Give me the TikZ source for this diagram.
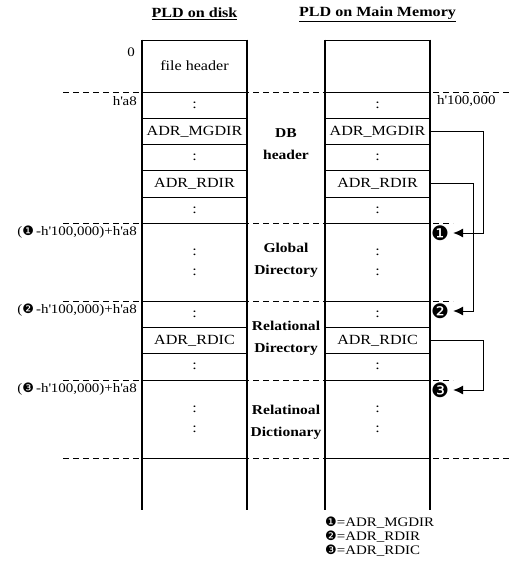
\documentclass[tikz,border=0pt]{standalone}
\usepackage{fontspec}
\setmainfont[FakeStretch=1.15]{Liberation Serif}
\newfontfamily\symfont{DejaVu Sans}
\usetikzlibrary{arrows.meta}
\newcommand{\tick}{\textquotesingle}

\tikzset{
  cell/.style={draw,line width=0.6pt,minimum width=105pt,minimum height=26.2pt,
    inner sep=0pt,font=\fontsize{14}{15}\selectfont},
  tallcell/.style={cell,minimum height=78pt,align=center,font=\fontsize{14}{20}\selectfont},
  colline/.style={line width=1.8pt},
  sep/.style={dash pattern=on 6pt off 4pt,line width=0.7pt},
  seclabel/.style={font=\bfseries\fontsize{13.5}{22}\selectfont,align=center},
  addr/.style={anchor=east,inner sep=0pt,font=\fontsize{13}{14}\selectfont},
  ptrnum/.style={inner sep=0pt,font=\fontsize{20}{20}\selectfont\symfont},
  ptr/.style={->,line width=1pt,shorten >=4pt},
  title/.style={font=\bfseries\fontsize{14}{16}\selectfont},
}

\begin{document}
\begin{tikzpicture}[x=1pt,y=-1pt,>={Latex[length=10pt,width=9pt]}]
    \useasboundingbox (0,0) rectangle (512,567);
    \node[title] (tdisk) at (194.5,14) {\underline{PLD on disk}};
    \node[title] (tmem) at (377.5,14) {\underline{PLD on Main Memory}};
    % section boundaries
    \draw[sep] (63,92) -- (512,92);
    \draw[sep] (63,223) -- (453,223);
    \draw[sep] (63,301) -- (453,301);
    \draw[sep] (63,380) -- (453,380);
    \draw[sep] (63,458) -- (512,458);
    % the two images of the PLD
    \foreach \c/\x/\t in {d/194.5/file header,m/377.5/{}}{
        \node[cell,minimum height=52pt] (\c top) at (\x,66) {\t};
        \node[cell] (\c a) at (\x,105.1) {:};
        \node[cell] (\c mg) at (\x,131.3) {ADR\_MGDIR};
        \node[cell] (\c b) at (\x,157.5) {:};
        \node[cell] (\c rd) at (\x,183.7) {ADR\_RDIR};
        \node[cell] (\c c) at (\x,209.9) {:};
        \node[tallcell] (\c gd) at (\x,262) {:\\:};
        \node[cell,minimum height=26.3pt] (\c e) at (\x,314.2) {:};
        \node[cell,minimum height=26.3pt] (\c rc) at (\x,340.5) {ADR\_RDIC};
        \node[cell,minimum height=26.3pt] (\c f) at (\x,366.8) {:};
        \node[tallcell] (\c dc) at (\x,419) {:\\:};
        \draw[colline] (\c top.north west) -- ++(0,470);
        \draw[colline] (\c top.north east) -- ++(0,470);
    }
    % offsets
    \node[addr] (o0) at (135,52) {0};
    \node[addr] (oa8) at (137,101) {h\tick a8};
    \node[addr] (o1) at (137,232) {({\symfont ❶}\,-h\tick 100,000)+h\tick a8};
    \node[addr] (o2) at (137,310) {({\symfont ❷}\,-h\tick 100,000)+h\tick a8};
    \node[addr] (o3) at (137,389) {({\symfont ❸}\,-h\tick 100,000)+h\tick a8};
    \node[addr,anchor=west] (obase) at (437,101) {h\tick 100,000};
    % areas
    \node[seclabel] (dbh) at (286,144.5) {DB\\header};
    \node[seclabel] (gdir) at (286,260) {Global\\Directory};
    \node[seclabel] (rdir) at (286,338.5) {Relational\\Directory};
    \node[seclabel] (rdic) at (286,422) {Relatinoal\\Dictionary};
    % pointers
    \node[ptrnum] (n1) at (440,233) {❶};
    \node[ptrnum] (n2) at (440,311) {❷};
    \node[ptrnum] (n3) at (440,390) {❸};
    \draw[ptr] (mmg.east) -- ++(53,0) |- (n1.east);
    \draw[ptr] (mrd.east) -- ++(43,0) |- (n2.east);
    \draw[ptr] (mrc.east) -- ++(53,0) |- (n3.east);
    % key
    \node[addr,anchor=west] (k1) at (325,523) {{\symfont ❶}=ADR\_MGDIR};
    \node[addr,anchor=west] (k2) at (325,537) {{\symfont ❷}=ADR\_RDIR};
    \node[addr,anchor=west] (k3) at (325,551) {{\symfont ❸}=ADR\_RDIC};
\end{tikzpicture}
\end{document}
